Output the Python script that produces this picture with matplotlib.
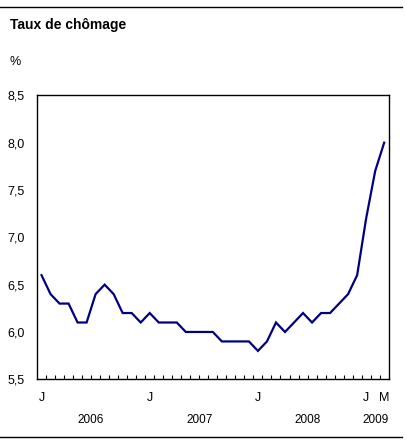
import matplotlib
matplotlib.use("Agg")
import matplotlib.pyplot as plt
from matplotlib.lines import Line2D

plt.rcParams['font.family'] = ['Liberation Sans', 'DejaVu Sans']

values_2006 = [6.6, 6.4, 6.3, 6.3, 6.1, 6.1, 6.4, 6.5, 6.4, 6.2, 6.2, 6.1]
values_2007 = [6.2, 6.1, 6.1, 6.1, 6.0, 6.0, 6.0, 6.0, 5.9, 5.9, 5.9, 5.9]
values_2008 = [5.8, 5.9, 6.1, 6.0, 6.1, 6.2, 6.1, 6.2, 6.2, 6.3, 6.4, 6.6]
values_2009 = [7.2, 7.7, 8.0]
values = values_2006 + values_2007 + values_2008 + values_2009

month_labels = {0: "J", 12: "J", 24: "J", 36: "J", 38: "M"}
year_labels = ["2006", "2007", "2008", "2009"]
year_centers = [5.5, 17.5, 29.5, 37.0]
yticks = [5.5, 6.0, 6.5, 7.0, 7.5, 8.0, 8.5]

W, H = 407, 446
fig = plt.figure(figsize=(W / 100, H / 100), dpi=100)
ax = fig.add_axes([37 / W, (H - 379.3) / H, (388.7 - 37) / W, (379.3 - 95.3) / H])

x = list(range(len(values)))
ax.plot(x, values, color='#000080', linewidth=1.6, solid_joinstyle='miter')

ax.set_xlim(-0.5, 38.5)
ax.set_ylim(5.5, 8.5)
ax.set_yticks(yticks)
ax.set_yticklabels([f"{v:.1f}".replace('.', ',') for v in yticks], fontsize=9)
ax.tick_params(axis='y', length=0, pad=9)
ax.set_xticks([i + 0.5 for i in range(len(values) - 1)])
ax.set_xticklabels([])
ax.tick_params(axis='x', direction='in', length=3, width=0.8)
for s in ax.spines.values():
    s.set_linewidth(1.0)

tr = ax.get_xaxis_transform()
for i, lab in month_labels.items():
    ax.text(i, -0.065, lab, transform=tr, ha='center', va='center', fontsize=9)
for c, lab in zip(year_centers, year_labels):
    ax.text(c, -0.145, lab, transform=tr, ha='center', va='center', fontsize=8.5)

fig.text(10 / W, 1 - 25 / H, "Taux de chômage", fontsize=10, fontweight='bold', ha='left', va='center')
fig.text(10 / W, 1 - 62 / H, "%", fontsize=9, ha='left', va='center')
fig.add_artist(Line2D([0, 402 / W], [1 - 7 / H, 1 - 7 / H], color='black', linewidth=1.0))
fig.add_artist(Line2D([0, 402 / W], [1 - 437 / H, 1 - 437 / H], color='black', linewidth=1.0))

fig.savefig("out.png", dpi=100)
